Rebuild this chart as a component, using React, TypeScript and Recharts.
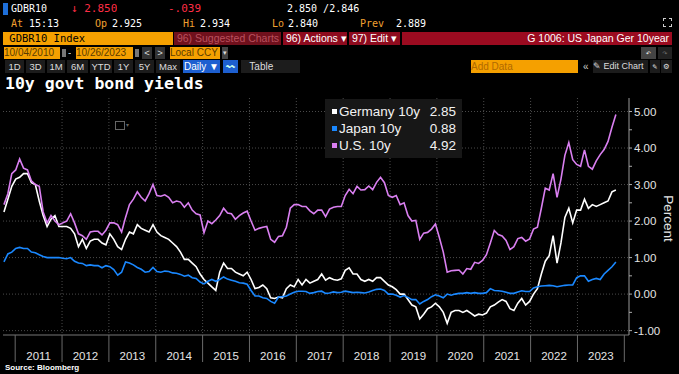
import { CartesianGrid, Label, Line, LineChart, XAxis, YAxis } from "recharts";

// monthly readings, Oct 2010 .. Oct 2023
const germany10y = [
  2.25, 2.6, 2.95,
  3.15, 3.2, 3.3, 3.3, 3.05, 3.0, 2.55, 2.15, 1.85, 2.05, 2.15, 1.85,
  1.85, 1.85, 1.8, 1.65, 1.3, 1.5, 1.25, 1.45, 1.5, 1.5, 1.4, 1.35,
  1.65, 1.5, 1.3, 1.22, 1.5, 1.7, 1.65, 1.9, 1.8, 1.75, 1.7, 1.9,
  1.7, 1.6, 1.55, 1.5, 1.4, 1.3, 1.15, 0.95, 0.95, 0.85, 0.75, 0.55,
  0.4, 0.3, 0.2, 0.1, 0.6, 0.85, 0.7, 0.7, 0.6, 0.55, 0.5, 0.6,
  0.4, 0.15, 0.18, 0.25, 0.15, -0.1, -0.12, -0.08, -0.1, 0.15, 0.25, 0.2,
  0.4, 0.25, 0.4, 0.3, 0.35, 0.4, 0.55, 0.38, 0.45, 0.4, 0.38, 0.42,
  0.65, 0.72, 0.55, 0.55, 0.4, 0.35, 0.4, 0.35, 0.45, 0.45, 0.35, 0.25,
  0.2, 0.12, 0.0, 0.0, -0.15, -0.3, -0.35, -0.68, -0.55, -0.4, -0.35, -0.25,
  -0.35, -0.5, -0.8, -0.5, -0.45, -0.45, -0.5, -0.45, -0.52, -0.6, -0.55, -0.57,
  -0.52, -0.35, -0.3, -0.22, -0.15, -0.2, -0.4, -0.45, -0.25, -0.12, -0.3, -0.2,
  0.0, 0.15, 0.55, 0.9, 1.05, 1.6, 0.85, 1.4, 2.1, 2.35, 1.95, 2.3,
  2.3, 2.6, 2.35, 2.45, 2.4, 2.45, 2.5, 2.55, 2.8, 2.85,
];

const japan10y = [
  0.88, 1.1, 1.15,
  1.25, 1.28, 1.25, 1.25, 1.15, 1.13, 1.08, 1.03, 1.0, 1.0, 1.0, 1.0,
  0.98, 0.97, 1.0, 0.9, 0.85, 0.84, 0.78, 0.8, 0.78, 0.78, 0.72, 0.78,
  0.75, 0.67, 0.52, 0.6, 0.88, 0.85, 0.8, 0.73, 0.68, 0.6, 0.62, 0.73,
  0.62, 0.6, 0.63, 0.62, 0.58, 0.57, 0.54, 0.49, 0.52, 0.45, 0.43, 0.33,
  0.28, 0.35, 0.4, 0.35, 0.4, 0.47, 0.41, 0.38, 0.35, 0.31, 0.3, 0.27,
  0.1, -0.05, -0.05, -0.1, -0.12, -0.2, -0.25, -0.08, -0.07, -0.05, 0.0, 0.05,
  0.08, 0.08, 0.07, 0.02, 0.04, 0.07, 0.08, 0.02, 0.03, 0.06, 0.04, 0.05,
  0.08, 0.06, 0.04, 0.05, 0.04, 0.03, 0.06, 0.1, 0.13, 0.14, 0.1, 0.0,
  0.0, -0.03, -0.08, -0.04, -0.09, -0.15, -0.15, -0.27, -0.2, -0.15, -0.07, -0.02,
  -0.05, -0.1, 0.0, -0.03, 0.0, 0.02, 0.02, 0.04, 0.02, 0.04, 0.02, 0.02,
  0.04, 0.15, 0.1, 0.09, 0.08, 0.05, 0.02, 0.02, 0.06, 0.09, 0.07, 0.07,
  0.17, 0.2, 0.22, 0.23, 0.24, 0.23, 0.2, 0.22, 0.24, 0.25, 0.25, 0.45,
  0.5, 0.5, 0.35, 0.4, 0.43, 0.4, 0.55, 0.65, 0.75, 0.88,
];

const us10y = [
  2.45, 2.75, 3.3,
  3.4, 3.7, 3.45, 3.4, 3.1, 3.0, 2.95, 2.25, 1.95, 2.15, 2.0, 1.9,
  1.95, 2.0, 2.2, 1.95, 1.65, 1.6, 1.5, 1.7, 1.72, 1.72, 1.62, 1.75,
  1.95, 1.95, 1.9, 1.7, 2.1, 2.45, 2.6, 2.8, 2.65, 2.55, 2.75, 3.0,
  2.7, 2.68, 2.72, 2.65, 2.5, 2.55, 2.52, 2.38, 2.5, 2.3, 2.2, 2.17,
  1.68, 2.0, 1.93, 2.03, 2.15, 2.35, 2.22, 2.2, 2.05, 2.15, 2.22, 2.27,
  2.0, 1.75, 1.8, 1.83, 1.85, 1.5, 1.42, 1.58, 1.6, 1.83, 2.35, 2.45,
  2.45, 2.4, 2.4, 2.28, 2.2, 2.3, 2.3, 2.12, 2.33, 2.38, 2.4, 2.4,
  2.7, 2.87, 2.75, 2.95, 2.85, 2.86, 2.96, 2.86, 3.06, 3.2, 3.05, 2.7,
  2.65, 2.7, 2.45, 2.5, 2.15, 2.0, 2.02, 1.5, 1.67, 1.69, 1.78, 1.92,
  1.55, 1.15, 0.6, 0.64, 0.65, 0.66, 0.55, 0.7, 0.68, 0.87, 0.84, 0.92,
  1.08, 1.4, 1.74, 1.63, 1.59, 1.47, 1.22, 1.3, 1.52, 1.55, 1.45, 1.51,
  1.78, 1.83, 2.35, 2.9, 2.85, 3.3, 2.65, 3.15, 3.8, 4.15, 3.68, 3.55,
  3.5, 3.95, 3.5, 3.42, 3.65, 3.82, 3.96, 4.18, 4.57, 4.92,
];

const firstDate = 2010.76; // 10/04/2010
const lastDate = 2023.82; // 10/26/2023

const yearTicks = [2011, 2012, 2013, 2014, 2015, 2016, 2017, 2018, 2019, 2020, 2021, 2022, 2023, 2024];
const gridYears = [2012, 2013, 2014, 2015, 2016, 2017, 2018, 2019, 2020, 2021, 2022, 2023];
const yieldTicks = [-1, -0.5, 0, 0.5, 1, 1.5, 2, 2.5, 3, 3.5, 4, 4.5, 5];
const gridYields = [-1, 0, 1, 2, 3, 4, 5];

const legendItems = [
  { name: "Germany 10y", last: "2.85", color: "#ffffff" },
  { name: "Japan 10y", last: "0.88", color: "#1a88ff" },
  { name: "U.S. 10y", last: "4.92", color: "#d97ff0" },
];

const data = us10y.map((_, i) => ({
  t: firstDate + (i * (lastDate - firstDate)) / (us10y.length - 1),
  germany: germany10y[i],
  japan: japan10y[i],
  us: us10y[i],
}));

const chartW = 679;
const chartH = 279;
const margin = { top: 3, right: 0, bottom: 0, left: 3 };
const yAxisW = 50;
const xDomain = [2010.74, 2024.1];
const pxPerYear = (chartW - margin.left - margin.right - yAxisW) / (xDomain[1] - xDomain[0]);

const axisFont = "'Liberation Sans', Arial, sans-serif";
const monoFont = "'DejaVu Sans Mono', monospace";

function YearTick({ x, y, payload }: any) {
  return (
    <g>
      <line x1={x} x2={x} y1={y} y2={y + 27} stroke="#6a6a6a" />
      {payload.value < 2024 && (
        <text x={x + pxPerYear / 2} y={y + 25} textAnchor="middle" fill="#e4e4e4" fontSize={11.5} fontFamily={axisFont}>
          {payload.value}
        </text>
      )}
    </g>
  );
}

function YieldTick({ x, y, payload }: any) {
  if (!Number.isInteger(payload.value)) return null;
  return (
    <text x={x} y={y + 4} fill="#e4e4e4" fontSize={11.5} fontFamily={axisFont}>
      {payload.value.toFixed(2)}
    </text>
  );
}

function T({ x, y, c = "#fff", s = 10, children, w, bg, align, f = monoFont, h = 13 }: any) {
  return (
    <div
      style={{
        position: "absolute",
        left: x,
        top: y,
        width: w,
        height: h,
        color: c,
        background: bg,
        fontSize: s,
        fontFamily: f,
        lineHeight: `${h}px`,
        whiteSpace: "nowrap",
        textAlign: align,
        overflow: "hidden",
      }}
    >
      {children}
    </div>
  );
}

function Box({ x, y, w, h, bg, border }: any) {
  return <div style={{ position: "absolute", left: x, top: y, width: w, height: h, background: bg, border }} />;
}

const orange = "#f5a000";
const label = "#f0a030";
const sans = axisFont;

export default function App() {
  return (
    <div style={{ position: "absolute", left: 0, top: 0, width: 679, height: 374, background: "#000", overflow: "hidden" }}>
      {/* row 1 */}
      <Box x={3} y={3} w={5} h={12} bg="#1e6fd9" />
      <T x={11} y={2}>GDBR10</T>
      <T x={71} y={2} c="#ff2d45" s={11}>↓ 2.850</T>
      <T x={168} y={2} c="#ff2d45" s={11}>-.039</T>
      <T x={287} y={2}>2.850 /2.846</T>
      {/* row 2 */}
      <T x={11} y={17} c={label}>At</T>
      <T x={29} y={17}>15:13</T>
      <T x={95} y={17} c={label}>Op</T>
      <T x={112} y={17}>2.925</T>
      <T x={183} y={17} c={label}>Hi</T>
      <T x={200} y={17}>2.934</T>
      <T x={272} y={17} c={label}>Lo</T>
      <T x={288} y={17}>2.840</T>
      <T x={360} y={17} c={label}>Prev</T>
      <T x={396} y={17}>2.889</T>
      <Box x={663} y={18} w={7} h={7} border="1px dashed #ccc" />
      {/* row 3 */}
      <T x={3} y={32} w={170} bg={orange} c="#000" s={10.5}>&nbsp;GDBR10 Index</T>
      <T x={174} y={32} w={107} bg="#70101c" c="#b9505e" s={10.5} f={sans}>&nbsp;96) Suggested Charts</T>
      <T x={283} y={32} w={64} bg="#8e0b1e" s={10.5} f={sans}>&nbsp;96) Actions ▾</T>
      <T x={349} y={32} w={51} bg="#8e0b1e" s={10.5} f={sans}>&nbsp;97) Edit ▾</T>
      <T x={402} y={32} w={270} bg="#9b0b20" s={10.5} f={sans} align="right">G 1006: US Japan Ger 10year&nbsp;</T>
      {/* row 4 */}
      <T x={4} y={47} w={56} h={12} bg={orange} c="#5a3b00" s={10} f={sans}>10/04/2010</T>
      <Box x={62} y={49} w={4} h={8} bg="#777" />
      <T x={68} y={47} h={12} c="#ccc" s={10} f={sans}>-</T>
      <T x={76} y={47} w={57} h={12} bg={orange} c="#5a3b00" s={10} f={sans}>10/26/2023</T>
      <Box x={135} y={49} w={4} h={8} bg="#777" />
      <T x={142} y={47} w={10} h={12} bg="#333" c="#ddd" s={9.5} f={sans} align="center">&lt;</T>
      <T x={155} y={47} w={10} h={12} bg="#333" c="#ddd" s={9.5} f={sans} align="center">&gt;</T>
      <T x={170} y={47} w={50} h={12} bg={orange} c="#5a3b00" s={10} f={sans}>Local CCY</T>
      <T x={222} y={47} w={6} h={12} bg="#444" c="#ddd" s={7} f={sans} align="center">▾</T>
      <T x={641} y={47} w={15} h={12} bg="#444" c="#ddd" s={9} align="center">↶</T>
      <T x={658} y={47} w={14} h={12} bg="#222" c="#666" s={9} align="center">↷</T>
      {/* row 5 */}
      {[
        ["1D", 5, 19],
        ["3D", 26, 19],
        ["1M", 47, 18],
        ["6M", 67, 21],
        ["YTD", 90, 22],
        ["1Y", 114, 19],
        ["5Y", 135, 19],
        ["Max", 156, 24],
      ].map(([t, x, w]) => (
        <T key={t as string} x={x} y={60} w={w} bg="#1c1c1c" c="#ddd" s={9.5} f={sans} align="center">
          {t}
        </T>
      ))}
      <T x={183} y={60} w={37} bg="#1d5fd0" s={10} f={sans} align="center">Daily ▼</T>
      <T x={223} y={60} w={15} bg="#1d5fd0" c="#cfe" s={9} align="center">〰</T>
      <T x={241} y={60} w={59} bg="#1c1c1c" c="#ddd" s={10} f={sans}>&nbsp;&nbsp;&nbsp;Table</T>
      <T x={471} y={60} w={107} bg={orange} c="#b06a00" s={10} f={sans}>Add Data</T>
      <T x={583} y={60} c="#ccc" s={10} f={sans}>«</T>
      <T x={593} y={60} w={55} bg="#1c1c1c" c="#ddd" s={9} f={sans}>✎ Edit Chart</T>
      <T x={650} y={60} w={10} bg="#1c1c1c" c="#ddd" s={8} align="center">✎</T>
      <T x={661} y={60} w={11} bg="#1c1c1c" c="#ddd" s={9} align="center">⚙</T>

      {/* title */}
      <div style={{ position: "absolute", left: 5, top: 74, color: "#fff", fontFamily: monoFont, fontWeight: "bold", fontSize: 16.5, whiteSpace: "nowrap" }}>
        10y govt bond yields
      </div>

      <div style={{ position: "absolute", left: 0, top: 95 }}>
        <LineChart width={chartW} height={chartH} data={data} margin={margin}>
          <CartesianGrid
            horizontalValues={gridYields}
            verticalValues={gridYears}
            stroke="#4a4a4a"
            strokeDasharray="1 2"
          />
          <XAxis
            dataKey="t"
            type="number"
            domain={xDomain}
            allowDataOverflow
            ticks={yearTicks}
            interval={0}
            height={39}
            tickSize={0}
            tickMargin={0}
            tick={<YearTick />}
            axisLine={{ stroke: "#777" }}
          />
          <YAxis
            orientation="right"
            width={yAxisW}
            domain={[-1.12, 5.37]}
            allowDataOverflow
            ticks={yieldTicks}
            interval={0}
            tickSize={3}
            tickMargin={2}
            tickLine={{ stroke: "#aaa" }}
            axisLine={{ stroke: "#999" }}
            tick={<YieldTick />}
          >
            <Label
              content={({ viewBox }: any) => {
                const cx = viewBox.x + viewBox.width - 11;
                const cy = viewBox.y + viewBox.height / 2 + 2;
                return (
                  <text
                    x={cx}
                    y={cy}
                    transform={`rotate(90 ${cx} ${cy})`}
                    textAnchor="middle"
                    dominantBaseline="central"
                    fill="#e4e4e4"
                    fontSize={13.5}
                    fontFamily={axisFont}
                  >
                    Percent
                  </text>
                );
              }}
            />
          </YAxis>
          <Line dataKey="germany" stroke={legendItems[0].color} strokeWidth={1.6} dot={false} isAnimationActive={false} />
          <Line dataKey="japan" stroke={legendItems[1].color} strokeWidth={1.6} dot={false} isAnimationActive={false} />
          <Line dataKey="us" stroke={legendItems[2].color} strokeWidth={1.6} dot={false} isAnimationActive={false} />
        </LineChart>
      </div>

      {/* small chart-type icon */}
      <div style={{ position: "absolute", left: 115, top: 121, width: 8, height: 7, border: "1px solid #666" }} />
      <div style={{ position: "absolute", left: 126, top: 121, color: "#666", fontSize: 6, fontFamily: axisFont }}>▾</div>

      {/* legend */}
      <div style={{ position: "absolute", left: 325, top: 99, width: 137, height: 59, background: "#171717" }}>
        {legendItems.map((item, i) => (
          <div
            key={item.name}
            style={{
              position: "absolute",
              left: 7,
              top: 4 + i * 17,
              width: 124,
              height: 17,
              display: "flex",
              alignItems: "center",
              color: "#f2f2f2",
              fontFamily: axisFont,
              fontSize: 13.5,
            }}
          >
            <span style={{ width: 5, height: 5, background: item.color, marginRight: 2, flex: "none" }} />
            <span style={{ flex: 1 }}>{item.name}</span>
            <span>{item.last}</span>
          </div>
        ))}
      </div>

      <div style={{ position: "absolute", left: 5, top: 363, color: "#fff", fontFamily: axisFont, fontWeight: "bold", fontSize: 8 }}>
        Source: Bloomberg
      </div>
    </div>
  );
}
